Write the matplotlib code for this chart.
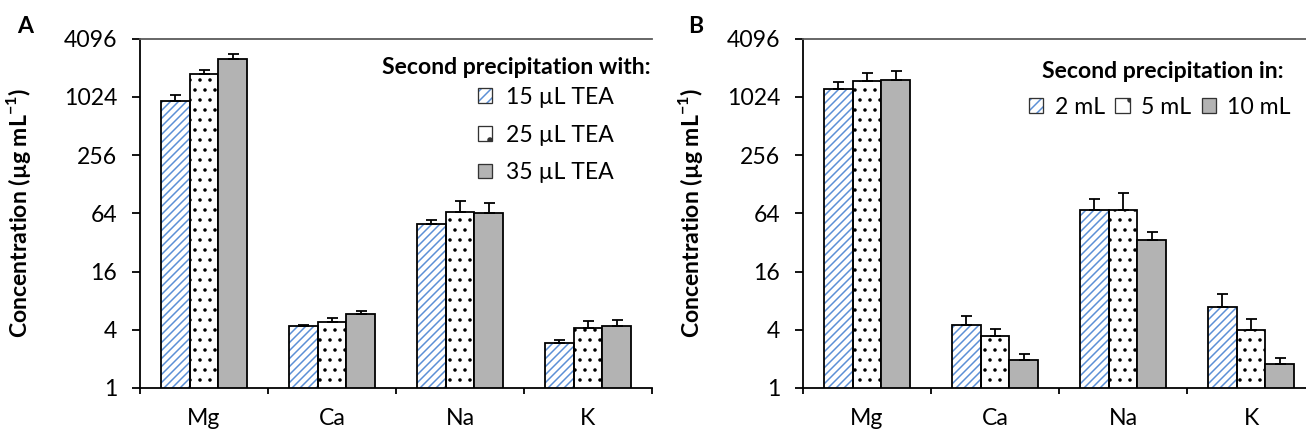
import numpy as np
import matplotlib
matplotlib.use("Agg")
import matplotlib.pyplot as plt
from matplotlib.patches import Patch
from matplotlib.ticker import FixedLocator

DPI = 120
W, H = 1306, 436


def pt(px):
    return px * 72.0 / DPI


plt.rcParams['font.family'] = ['Lato', 'DejaVu Sans']
plt.rcParams['mathtext.fontset'] = 'custom'
plt.rcParams['mathtext.rm'] = 'Lato'
plt.rcParams['mathtext.bf'] = 'Lato:bold'
plt.rcParams['hatch.linewidth'] = pt(1.5)

# ---------------- data ----------------
elements = ['Mg', 'Ca', 'Na', 'K']

labels_a = ['15 µL TEA', '25 µL TEA', '35 µL TEA']
title_a = 'Second precipitation with:'
a_15 = [915, 4.40, 49.6, 2.95]
a_25 = [1757, 4.76, 66.6, 4.16]
a_35 = [2540, 5.82, 65.0, 4.33]
a_15_err = [145, 0.05, 4.4, 0.20]
a_25_err = [163, 0.48, 19.3, 0.76]
a_35_err = [270, 0.38, 16.0, 0.71]

labels_b = ['2 mL', '5 mL', '10 mL']
title_b = 'Second precipitation in:'
b_2 = [1240, 4.50, 68.8, 6.93]
b_5 = [1475, 3.46, 68.8, 3.97]
b_10 = [1510, 1.94, 33.6, 1.76]
b_2_err = [200, 1.09, 20.6, 2.45]
b_5_err = [310, 0.60, 34.2, 1.23]
b_10_err = [385, 0.33, 7.0, 0.27]

yticks = [1, 4, 16, 64, 256, 1024, 4096]

BLUE = '#5b8fd6'
GRAY = '#b3b3b3'

fig = plt.figure(figsize=(W / DPI, H / DPI), dpi=DPI)

FS = pt(23)
LW = pt(1.8)


def make_axes(left_px):
    bottom_px, top_px = 388, 38.5
    return fig.add_axes([left_px / W, 1 - bottom_px / H, 512 / W, (bottom_px - top_px) / H])


def draw_panel(ax, series, errs):
    x = np.arange(len(elements))
    w = 0.223
    styles = ['hatch', 'dots', 'solid']
    for i, (vals, err) in enumerate(zip(series, errs)):
        pos = x + (i - 1) * w
        st = styles[i]
        if st == 'hatch':
            ax.bar(pos, vals, w, bottom=0.0001, color='white', edgecolor=BLUE, hatch='/////',
                   linewidth=0, zorder=2)
            ax.bar(pos, vals, w, bottom=0.0001, color='none', edgecolor='black', linewidth=LW, zorder=3)
        elif st == 'dots':
            ax.bar(pos, vals, w, bottom=0.0001, color='white', edgecolor='black', hatch='..',
                   linewidth=LW, zorder=2)
        else:
            ax.bar(pos, vals, w, bottom=0.0001, color=GRAY, edgecolor='black', linewidth=LW, zorder=2)
        ax.errorbar(pos, vals, yerr=[np.zeros(len(vals)), err], fmt='none', ecolor='black',
                    elinewidth=LW, capsize=pt(5.5), capthick=LW, zorder=4)
    ax.set_yscale('log', base=2)
    ax.set_ylim(1, 4096)
    ax.set_xlim(-0.5, 3.5)
    ax.yaxis.set_major_locator(FixedLocator(yticks))
    ax.set_yticklabels([str(t) for t in yticks])
    ax.yaxis.set_minor_locator(FixedLocator([]))
    ax.set_xticks(x)
    ax.set_xticklabels(elements)
    ax.set_xticks([-0.5, 0.5, 1.5, 2.5, 3.5], minor=True)
    ax.tick_params(axis='x', which='major', length=0, pad=pt(20), labelsize=FS)
    ax.tick_params(axis='x', which='minor', length=pt(6), width=LW, direction='out')
    ax.tick_params(axis='y', which='major', length=pt(8), width=LW, direction='out', pad=pt(15),
                   labelsize=FS)
    ax.spines['right'].set_visible(False)
    ax.spines['top'].set_color('#5a5a5a')
    ax.spines['top'].set_linewidth(LW)
    ax.spines['left'].set_linewidth(LW)
    ax.spines['bottom'].set_linewidth(LW)
    ax.set_ylabel(r'Concentration (µg mL$^{\mathbf{-1}}$)', fontsize=FS, fontweight='bold')


def legend_handles():
    h1 = (Patch(facecolor='white', edgecolor=BLUE, hatch='////', linewidth=0),
          Patch(facecolor='none', edgecolor='#333333', linewidth=pt(1.3)))
    h2 = Patch(facecolor='white', edgecolor='#333333', hatch='.', linewidth=pt(1.3))
    h3 = Patch(facecolor=GRAY, edgecolor='#333333', linewidth=pt(1.3))
    return [h1, h2, h3]


def ax_x(px, left):
    return (px - left) / 512


def ax_y(py):
    return (388 - py) / 349.5


axA = make_axes(140)
draw_panel(axA, [a_15, a_25, a_35], [a_15_err, a_25_err, a_35_err])
axA.yaxis.set_label_coords(ax_x(33, 140), 0.5)
axA.text(ax_x(651, 140), ax_y(68), title_a, transform=axA.transAxes, ha='right', va='center',
         fontsize=FS, fontweight='bold')
axA.legend(legend_handles(), labels_a, fontsize=FS,
           frameon=False, loc='upper left', bbox_to_anchor=(ax_x(478, 140), ax_y(87)),
           handlelength=0.62, handleheight=0.62, handletextpad=0.6, labelspacing=0.72,
           borderpad=0, borderaxespad=0)

axB = make_axes(803)
draw_panel(axB, [b_2, b_5, b_10], [b_2_err, b_5_err, b_10_err])
axB.yaxis.set_label_coords(ax_x(705, 803), 0.5)
axB.text(ax_x(1163, 803), ax_y(72), title_b, transform=axB.transAxes, ha='center', va='center',
         fontsize=FS, fontweight='bold')
axB.legend(legend_handles(), labels_b, fontsize=FS, ncol=3,
           frameon=False, loc='upper center', bbox_to_anchor=(ax_x(1160, 803), ax_y(97)),
           handlelength=0.62, handleheight=0.62, handletextpad=0.5, columnspacing=0.45,
           borderpad=0, borderaxespad=0)

fig.text(17 / W, 1 - 33 / H, 'A', fontsize=pt(23), fontweight='bold', ha='left', va='baseline')
fig.text(688 / W, 1 - 33 / H, 'B', fontsize=pt(23), fontweight='bold', ha='left', va='baseline')

fig.savefig('out.png', dpi=DPI)
